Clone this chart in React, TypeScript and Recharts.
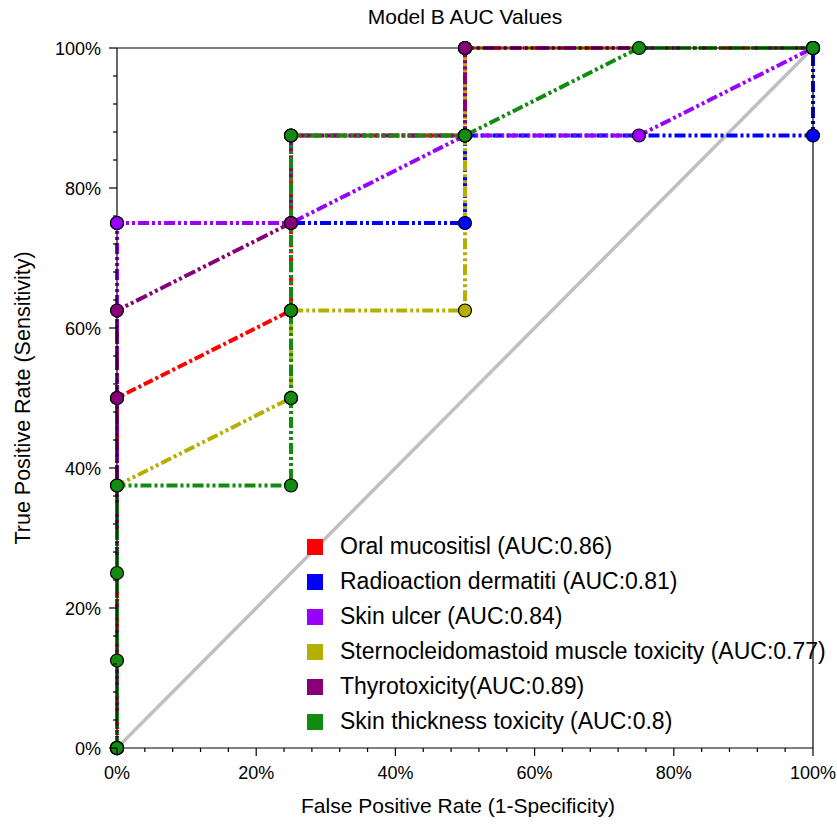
import React from "react";
import { LineChart, Line, XAxis, YAxis, Legend } from "recharts";

const seriesNames = [
  "Oral mucositisl (AUC:0.86)",
  "Radioaction dermatiti (AUC:0.81)",
  "Skin ulcer (AUC:0.84)",
  "Sternocleidomastoid muscle toxicity (AUC:0.77)",
  "Thyrotoxicity(AUC:0.89)",
  "Skin thickness toxicity (AUC:0.8)",
];
const seriesColors = ["#ff0000", "#0000ff", "#9900ff", "#b5b000", "#880077", "#138a10"];
const seriesDash = ["10 3 3 3", "11 3 3 3 3 3", "11 3 3 3 3 3", "11 3 3 3 3 3", "12 3 3 3 3 3", "11 3 3 3 3 3"];

// false positive rate / true positive rate per model
const oralFpr = [0, 0, 0.25, 0.25, 0.5, 0.5, 1];
const oralTpr = [0, 0.5, 0.625, 0.875, 0.875, 1, 1];
const dermFpr = [0, 0, 0.5, 0.5, 1, 1];
const dermTpr = [0, 0.75, 0.75, 0.875, 0.875, 1];
const ulcerFpr = [0, 0, 0.25, 0.5, 0.75, 1];
const ulcerTpr = [0, 0.75, 0.75, 0.875, 0.875, 1];
const sternoFpr = [0, 0, 0.25, 0.25, 0.5, 0.5, 1];
const sternoTpr = [0, 0.375, 0.5, 0.625, 0.625, 1, 1];
const thyroFpr = [0, 0, 0, 0.25, 0.25, 0.5, 0.5, 1];
const thyroTpr = [0, 0.5, 0.625, 0.75, 0.875, 0.875, 1, 1];
const thickFpr = [0, 0, 0, 0, 0.25, 0.25, 0.25, 0.25, 0.5, 0.75, 1];
const thickTpr = [0, 0.125, 0.25, 0.375, 0.375, 0.5, 0.625, 0.875, 0.875, 1, 1];
const chanceFpr = [0, 1];
const chanceTpr = [0, 1];

const majorTicks = [0, 0.2, 0.4, 0.6, 0.8, 1];
const majorLabels = ["0%", "20%", "40%", "60%", "80%", "100%"];
const minorTicks = [0.04, 0.08, 0.12, 0.16, 0.24, 0.28, 0.32, 0.36, 0.44, 0.48, 0.52, 0.56, 0.64, 0.68, 0.72, 0.76, 0.84, 0.88, 0.92, 0.96];
const allTicks = [...majorTicks, ...minorTicks].sort((a, b) => a - b);

const toPoints = (fpr: number[], tpr: number[]) => fpr.map((x, i) => ({ x, y: tpr[i] }));
const seriesData = [
  toPoints(oralFpr, oralTpr),
  toPoints(dermFpr, dermTpr),
  toPoints(ulcerFpr, ulcerTpr),
  toPoints(sternoFpr, sternoTpr),
  toPoints(thyroFpr, thyroTpr),
  toPoints(thickFpr, thickTpr),
];
const chanceData = toPoints(chanceFpr, chanceTpr);

const FONT = "'Liberation Sans', Arial, sans-serif";

const labelFor = (v: number) => {
  const i = majorTicks.findIndex((m) => Math.abs(m - v) < 1e-6);
  return i >= 0 ? majorLabels[i] : null;
};

function AxisTick(props: any) {
  const { x, y, payload, side } = props;
  const label = labelFor(payload.value);
  const len = label ? 8 : 4;
  let line;
  if (side === "bottom") line = <line x1={x} x2={x} y1={y} y2={y + len} stroke="#000" strokeWidth={1.2} />;
  else if (side === "top") line = <line x1={x} x2={x} y1={y} y2={y - len} stroke="#000" strokeWidth={1.2} />;
  else if (side === "left") line = <line x1={x} x2={x - len} y1={y} y2={y} stroke="#000" strokeWidth={1.2} />;
  else line = <line x1={x} x2={x + len} y1={y} y2={y} stroke="#000" strokeWidth={1.2} />;
  return (
    <g>
      {line}
      {label && side === "bottom" && (
        <text x={x} y={y + 31} textAnchor="middle" fontSize={18} fontFamily={FONT} fill="#000">
          {label}
        </text>
      )}
      {label && side === "left" && (
        <text x={x - 16} y={y + 6.5} textAnchor="end" fontSize={18} fontFamily={FONT} fill="#000">
          {label}
        </text>
      )}
    </g>
  );
}

function LegendBox() {
  return (
    <div style={{ fontFamily: FONT, fontSize: 23, color: "#000" }}>
      {seriesNames.map((name, i) => (
        <div key={name} style={{ height: 35, display: "flex", alignItems: "center", whiteSpace: "nowrap" }}>
          <span style={{ width: 16, height: 16, background: seriesColors[i], display: "inline-block", marginRight: 17 }} />
          <span>{name}</span>
        </div>
      ))}
    </div>
  );
}

export default function App() {
  const axisLine = { stroke: "#000", strokeWidth: 1.2 };
  return (
    <div style={{ position: "absolute", left: 0, top: 0, width: 837, height: 824, background: "#fff" }}>
      <LineChart width={837} height={824} margin={{ top: 18, right: 4, bottom: 46, left: 57 }}>
        <XAxis
          xAxisId="b"
          dataKey="x"
          type="number"
          domain={[0, 1]}
          ticks={allTicks}
          interval={0}
          height={30}
          tickSize={0}
          tickMargin={0}
          tickLine={false}
          axisLine={axisLine}
          tick={(p: any) => <AxisTick {...p} side="bottom" />}
        />
        <XAxis
          xAxisId="t"
          orientation="top"
          type="number"
          domain={[0, 1]}
          ticks={allTicks}
          interval={0}
          height={30}
          tickSize={0}
          tickMargin={0}
          tickLine={false}
          axisLine={axisLine}
          tick={(p: any) => <AxisTick {...p} side="top" />}
        />
        <YAxis
          yAxisId="l"
          dataKey="y"
          type="number"
          domain={[0, 1]}
          ticks={allTicks}
          interval={0}
          width={60}
          tickSize={0}
          tickMargin={0}
          tickLine={false}
          axisLine={axisLine}
          tick={(p: any) => <AxisTick {...p} side="left" />}
        />
        <YAxis
          yAxisId="r"
          orientation="right"
          type="number"
          domain={[0, 1]}
          ticks={allTicks}
          interval={0}
          width={20}
          tickSize={0}
          tickMargin={0}
          tickLine={false}
          axisLine={axisLine}
          tick={(p: any) => <AxisTick {...p} side="right" />}
        />
        <Line
          xAxisId="b"
          yAxisId="l"
          data={chanceData}
          dataKey="y"
          type="linear"
          stroke="#c0c0c0"
          strokeWidth={3.5}
          dot={false}
          isAnimationActive={false}
          legendType="none"
        />
        {seriesData.map((d, i) => (
          <Line
            key={seriesNames[i]}
            xAxisId="b"
            yAxisId="l"
            data={d}
            dataKey="y"
            name={seriesNames[i]}
            type="linear"
            stroke={seriesColors[i]}
            strokeWidth={4}
            strokeDasharray={seriesDash[i]}
            dot={{ r: 6.5, fill: seriesColors[i], stroke: "#000", strokeWidth: 1.2, strokeDasharray: "0" }}
            activeDot={false}
            isAnimationActive={false}
          />
        ))}
        <Legend
          layout="vertical"
          align="center"
          verticalAlign="middle"
          content={() => <LegendBox />}
          wrapperStyle={{ left: 307, top: 529, width: 530 }}
        />
      </LineChart>
      <svg width={837} height={824} style={{ position: "absolute", left: 0, top: 0, pointerEvents: "none" }}>
        <text x={465} y={24} textAnchor="middle" fontSize={21} fontFamily={FONT} fill="#000">
          Model B AUC Values
        </text>
        <text x={458} y={813} textAnchor="middle" fontSize={21} fontFamily={FONT} fill="#000">
          False Positive Rate (1-Specificity)
        </text>
        <text
          x={30}
          y={398}
          textAnchor="middle"
          fontSize={21.5}
          fontFamily={FONT}
          fill="#000"
          transform="rotate(-90 30 398)"
        >
          True Positive Rate (Sensitivity)
        </text>
      </svg>
    </div>
  );
}
